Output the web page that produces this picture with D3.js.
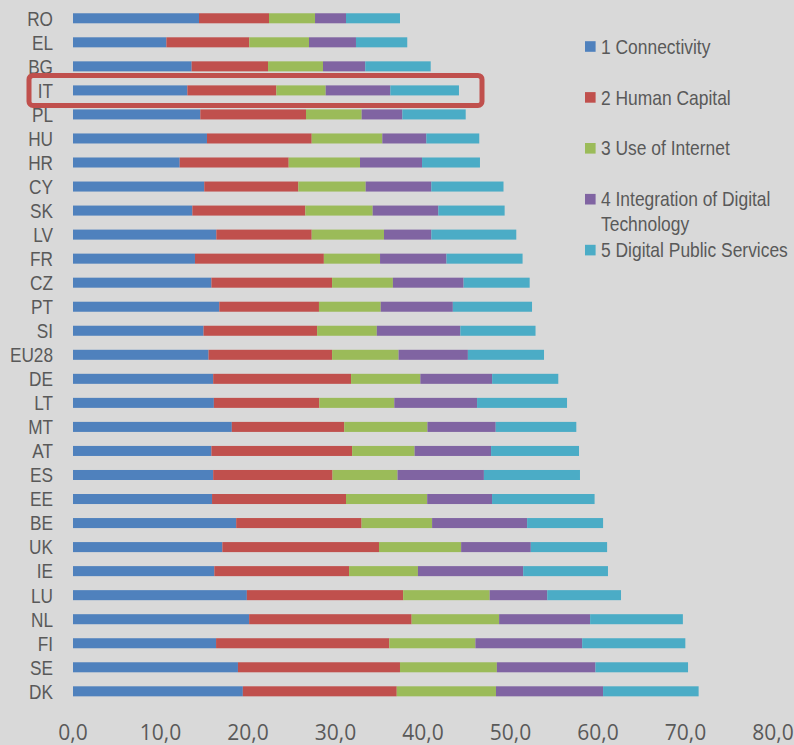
<!DOCTYPE html>
<html>
<head>
<meta charset="utf-8">
<script src="https://cdn.jsdelivr.net/npm/d3@7"></script>
<style>
    body { margin: 0; background: #d9d9d9; }
    svg { display: block; }
    .cat { font-family: "Liberation Sans", Arial, sans-serif; font-size: 21px; fill: #595959; }
    .tick-lbl { font-family: "Open Sans", "Noto Sans", sans-serif; font-size: 21px; fill: #595959; }
    .leg { font-family: "Liberation Sans", Arial, sans-serif; font-size: 20.5px; fill: #595959; }
</style>
</head>
<body>
<div id="chart"></div>
<script>
// countries, top to bottom
const countries = ['RO', 'EL', 'BG', 'IT', 'PL', 'HU', 'HR', 'CY', 'SK', 'LV', 'FR', 'CZ', 'PT', 'SI', 'EU28',
    'DE', 'LT', 'MT', 'AT', 'ES', 'EE', 'BE', 'UK', 'IE', 'LU', 'NL', 'FI', 'SE', 'DK'];

const seriesNames = ['1 Connectivity', '2 Human Capital', '3 Use of Internet',
    '4 Integration of Digital Technology', '5 Digital Public Services'];
const seriesColors = ['#4f81bd', '#c0504d', '#9bbb59', '#8064a2', '#4bacc6'];

const connectivity = [14.40, 10.67, 13.56, 13.07, 14.55, 15.31, 12.19, 15.00, 13.64, 16.38, 13.94, 15.82, 16.72, 14.92, 15.49,
    16.02, 16.10, 18.15, 15.82, 16.02, 15.89, 18.65, 17.07, 16.15, 19.87, 20.13, 16.35, 18.85, 19.41];
const humanCapital = [8.00, 9.48, 8.73, 10.17, 12.08, 11.97, 12.46, 10.75, 12.91, 10.90, 14.73, 13.79, 11.39, 12.98, 14.12,
    15.76, 12.05, 12.85, 16.08, 13.64, 15.31, 14.33, 17.90, 15.40, 17.86, 18.57, 19.80, 18.52, 17.59];
const useOfInternet = [5.26, 6.82, 6.28, 5.64, 6.36, 8.07, 8.15, 7.70, 7.70, 8.26, 6.42, 6.95, 7.06, 6.82, 7.60,
    7.92, 8.57, 9.51, 7.14, 7.43, 9.28, 8.06, 9.39, 7.87, 9.89, 10.00, 9.84, 11.07, 11.34];
const integration = [3.54, 5.37, 4.83, 7.39, 4.65, 5.03, 7.09, 7.50, 7.50, 5.41, 7.59, 8.08, 8.24, 9.55, 7.92,
    8.20, 9.46, 7.80, 8.74, 9.87, 7.41, 10.86, 7.96, 12.03, 6.58, 10.40, 12.20, 11.27, 12.24];
const publicServices = [6.17, 5.86, 7.48, 7.84, 7.24, 6.05, 6.62, 8.25, 7.58, 9.71, 8.70, 7.55, 9.05, 8.59, 8.70,
    7.56, 10.28, 9.21, 10.05, 10.98, 11.72, 8.68, 8.72, 9.69, 8.43, 10.60, 11.79, 10.58, 10.92];

const xTicks = [0, 10, 20, 30, 40, 50, 60, 70, 80];
const highlighted = 'IT';

const width = 794, height = 745;
const narrow = 0.82;    // squeeze text horizontally, no narrow font installed
const narrowLeg = 0.85;

const table = countries.map((c, i) => ({
    country: c,
    s0: connectivity[i],
    s1: humanCapital[i],
    s2: useOfInternet[i],
    s3: integration[i],
    s4: publicServices[i]
}));
const keys = ['s0', 's1', 's2', 's3', 's4'];
const stacked = d3.stack().keys(keys)(table);

const x = d3.scaleLinear().domain([0, 80]).range([73, 773]);
const y = d3.scaleBand().domain(countries).range([6.3, 703.3]).paddingInner(0.583).paddingOuter(0.29);

const svg = d3.select('#chart').append('svg')
    .attr('width', width)
    .attr('height', height);

svg.append('rect').attr('width', width).attr('height', height).attr('fill', '#d9d9d9');

// bars
svg.append('g').selectAll('g')
    .data(stacked)
    .join('g')
    .attr('fill', (d, i) => seriesColors[i])
    .selectAll('rect')
    .data(d => d)
    .join('rect')
    .attr('x', d => x(d[0]))
    .attr('y', d => y(d.data.country))
    .attr('width', d => x(d[1]) - x(d[0]))
    .attr('height', y.bandwidth());

// category labels
svg.append('g').selectAll('text')
    .data(countries)
    .join('text')
    .attr('class', 'cat')
    .attr('transform', d => `translate(53, ${y(d) + y.bandwidth() / 2}) scale(${narrow}, 1)`)
    .attr('dy', '0.35em')
    .attr('text-anchor', 'end')
    .text(d => d);

// x axis labels (comma decimal)
const fmt = d3.formatLocale({ decimal: ',', thousands: '.', grouping: [3], currency: ['', '€'] }).format('.1f');
svg.append('g').selectAll('text')
    .data(xTicks)
    .join('text')
    .attr('class', 'tick-lbl')
    .attr('x', d => x(d))
    .attr('y', 740)
    .attr('text-anchor', 'middle')
    .text(d => fmt(d));

// legend
const legendLines = [['1 Connectivity'], ['2 Human Capital'], ['3 Use of Internet'],
    ['4 Integration of Digital', 'Technology'], ['5 Digital Public Services']];
const leg = svg.append('g').selectAll('g')
    .data(seriesNames)
    .join('g')
    .attr('transform', (d, i) => `translate(585, ${46.5 + i * 50.9})`);
leg.append('rect')
    .attr('y', -5.3)
    .attr('width', 10.6)
    .attr('height', 10.6)
    .attr('fill', (d, i) => seriesColors[i]);
leg.append('text')
    .attr('class', 'leg')
    .attr('transform', `translate(16, 0) scale(${narrowLeg}, 1)`)
    .selectAll('tspan')
    .data((d, i) => legendLines[i])
    .join('tspan')
    .attr('x', 0)
    .attr('y', (d, j) => j * 24.3)
    .attr('dy', '0.35em')
    .text(d => d);

// highlight box round IT
svg.append('rect')
    .attr('x', 29)
    .attr('y', y(highlighted) + y.bandwidth() / 2 - 15)
    .attr('width', 453)
    .attr('height', 30)
    .attr('rx', 4)
    .attr('fill', 'none')
    .attr('stroke', '#c0504d')
    .attr('stroke-width', 5);
</script>
</body>
</html>
